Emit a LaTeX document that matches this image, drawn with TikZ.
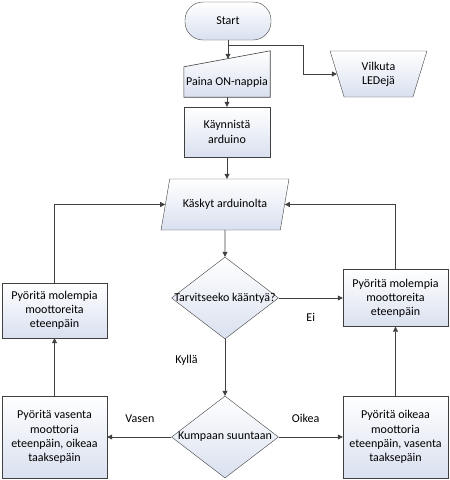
\documentclass[tikz,border=0pt]{standalone}
\usepackage{fontspec}
\setmainfont{Carlito}
\usetikzlibrary{arrows.meta,positioning,calc,shapes.geometric,backgrounds}
\definecolor{lineclr}{HTML}{404040}
\definecolor{boxshade}{HTML}{D9E0EF}
\tikzset{
  base/.style   = {draw=lineclr,top color=white,bottom color=boxshade,
                   align=center,inner sep=2pt,font=\fontsize{12}{14.2}\selectfont},
  term/.style   = {base,rounded corners=18pt,minimum width=86pt,minimum height=38pt},
  proc/.style   = {base,minimum width=86pt,minimum height=50pt},
  side/.style   = {base,minimum width=105pt},
  manin/.style  = {align=center,inner sep=2pt,minimum width=86pt,minimum height=30pt,
                   font=\fontsize{12}{14.2}\selectfont},
  manop/.style  = {base,trapezium,shape border rotate=180,trapezium angle=75,
                   trapezium stretches=true,minimum width=97pt,minimum height=46pt},
  io/.style     = {base,trapezium,trapezium left angle=64,trapezium right angle=116,
                   trapezium stretches=true,minimum width=128pt,minimum height=51pt},
  dec/.style    = {base,diamond,minimum width=107pt,minimum height=82pt,inner sep=0pt},
  lbl/.style    = {font=\fontsize{12}{14.2}\selectfont,inner sep=0pt},
  ln/.style     = {draw=lineclr,line width=0.6pt},
  arr/.style    = {ln,-{Triangle[length=5pt,width=5pt]}},
}

\begin{document}
\begin{tikzpicture}[x=1pt,y=-1pt]
  \useasboundingbox (0,0) rectangle (450,480);

  % Start and setup
  \node[term] (start) at (228,21) {Start};
  \node[manin] (paina) at (227,82) {Paina ON-nappia};
  \begin{scope}[on background layer]
    \shade[ln,top color=white,bottom color=boxshade]
      (paina.south west) -- (paina.south east) -- ([yshift=16pt]paina.north east)
      -- (paina.north west) -- cycle;
  \end{scope}
  \coordinate (painain) at ($(paina.north)+(0,-8)$);
  \node[manop] (vilkuta) at (378.5,74) {Vilkuta\\ LEDejä};
  \node[proc] (kaynnista) at (227,132) {Käynnistä\\ arduino};

  % Main loop
  \node[io] (kasky) at (225,204.5) {Käskyt arduinolta};
  \node[dec,label={[lbl]center:Tarvitseeko kääntyä?}] (kaantya) at (225,298) {};
  \node[dec,label={[lbl]center:Kumpaan suuntaan}] (suunta) at (225,437) {};

  \node[side,minimum height=57pt] (suoraoik) at (395.5,298) {Pyöritä molempia\\ moottoreita\\ eteenpäin};
  \node[side,minimum height=55pt] (suoravas) at (54.5,310.5) {Pyöritä molempia\\ moottoreita\\ eteenpäin};
  \node[side,minimum height=82pt] (vasen) at (54.5,437) {Pyöritä vasenta\\ moottoria\\ eteenpäin, oikeaa\\ taaksepäin};
  \node[side,minimum height=82pt] (oikea) at (395.5,437) {Pyöritä oikeaa\\ moottoria\\ eteenpäin, vasenta\\ taaksepäin};

  % Connectors
  \draw[arr] (start.south) -- (start.south |- painain);
  \coordinate (split) at ($(start.south)+(0,5)$);
  \draw[arr] (split) -- ++(75,0) |- (vilkuta.west);
  \draw[arr] (paina.south) -- (paina.south |- kaynnista.north);
  \draw[arr] (kaynnista.south) -- (kaynnista.south |- kasky.north);
  \draw[arr] (kasky.south) -- (kaantya.north);
  \draw[arr] (kaantya.east) -- node[lbl,pos=0.5,below=15pt]{Ei} (suoraoik.west);
  \draw[arr] (kaantya.south) -- node[lbl,pos=0.37,left=27pt]{Kyllä} (suunta.north);
  \draw[arr] (suunta.west) -- node[lbl,pos=0.49,above=14pt]{Vasen} (vasen.east);
  \draw[arr] (suunta.east) -- node[lbl,pos=0.42,above=14pt]{Oikea} (oikea.west);
  \draw[arr] (vasen.north) -- (suoravas.south);
  \draw[arr] (oikea.north) -- (suoraoik.south);
  \draw[arr] (suoravas.north) |- (kasky.west);
  \draw[arr] (suoraoik.north) |- (kasky.east);
\end{tikzpicture}
\end{document}
